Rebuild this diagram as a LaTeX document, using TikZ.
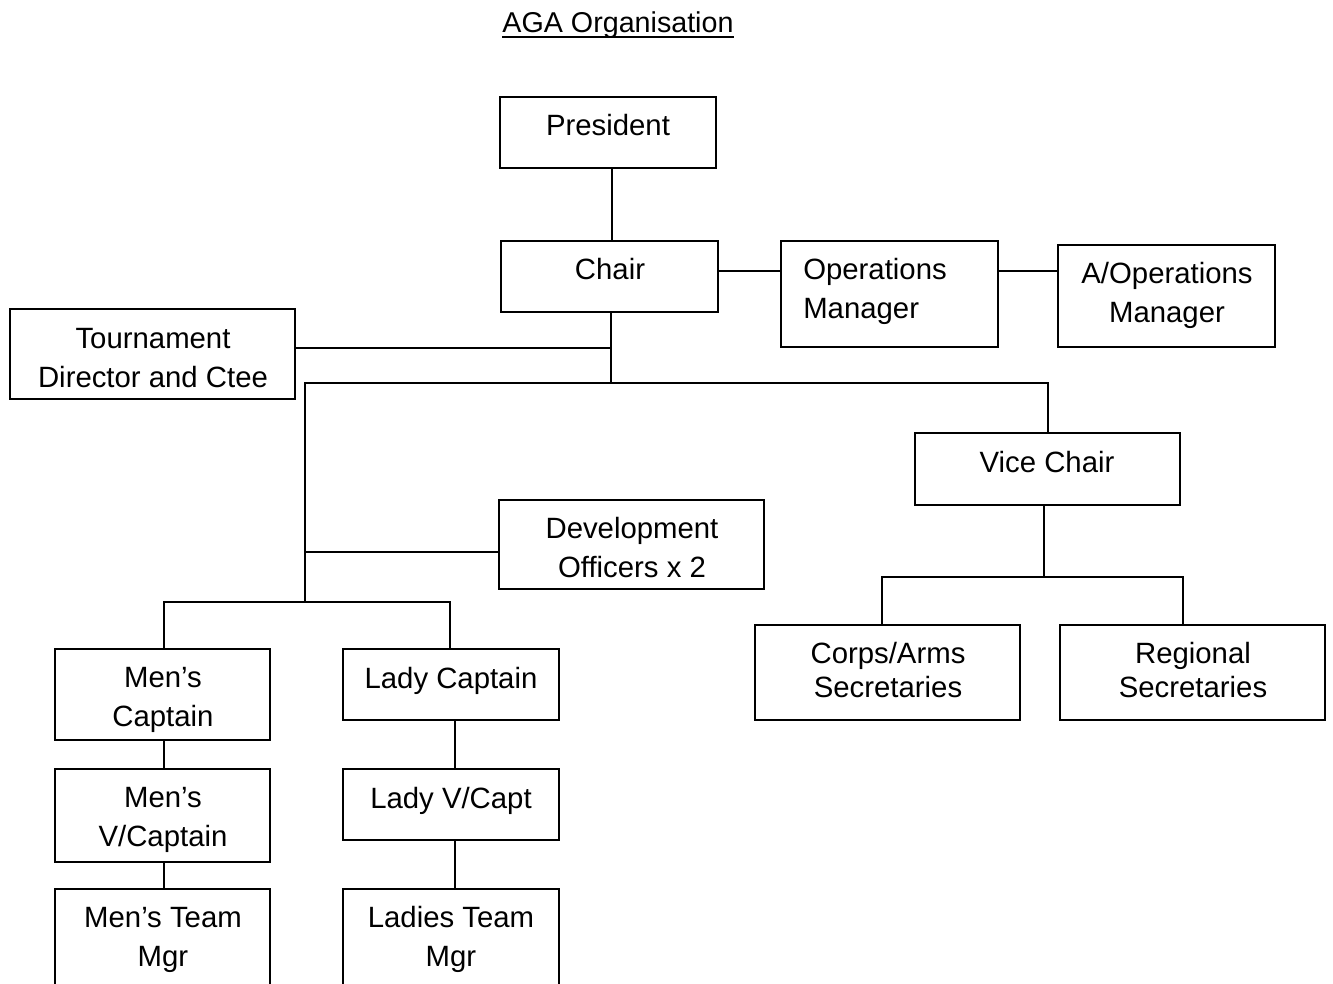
\documentclass[tikz,border=0pt]{standalone}
\usepackage{fontspec}
\setmainfont{Liberation Sans}
\usetikzlibrary{fit,calc}
\tikzset{
  box/.style={draw=black, line width=1.5pt, inner sep=0pt, rectangle},
  txt/.style={inner sep=0pt, align=center, anchor=north, font=\fontsize{22}{29.25}\selectfont},
  txtl/.style={txt, align=left, anchor=north west},
  txts/.style={txt, font=\fontsize{22}{25.5}\selectfont},
  conn/.style={line width=1.5pt, line cap=rect}
}
\newcommand{\st}{\rule{0pt}{20pt}}
\begin{document}
\begin{tikzpicture}[x=0.75pt,y=-0.75pt]
\useasboundingbox (0,0) rectangle (1333,983);
\clip (0,0) rectangle (1333,983);
\fill[white] (0,0) rectangle (1333,983);
% title
\node[inner sep=0pt, anchor=base, font=\fontsize{21.5}{25}\selectfont] (title) at (618,32) {AGA Organisation};
\draw[line width=1.2pt] ([yshift=-3.7pt]title.base west) -- ([yshift=-3.7pt]title.base east);
% boxes
\node[box, fit={(500,97) (716,168)}] (pres) {};
\node[box, fit={(501,241) (718,312)}] (chair) {};
\node[box, fit={(781,241) (998,347)}] (ops) {};
\node[box, fit={(1058,245) (1275,347)}] (aops) {};
\node[box, fit={(10,309) (295,399)}] (tour) {};
\node[box, fit={(915,433) (1180,505)}] (vice) {};
\node[box, fit={(499,500) (764,589)}] (dev) {};
\node[box, fit={(755,625) (1020,720)}] (corps) {};
\node[box, fit={(1060,625) (1325,720)}] (reg) {};
\node[box, fit={(55,649) (270,740)}] (men1) {};
\node[box, fit={(343,649) (559,720)}] (lady1) {};
\node[box, fit={(55,769) (270,862)}] (men2) {};
\node[box, fit={(343,769) (559,840)}] (lady2) {};
\node[box, fit={(55,889) (270,1010)}] (men3) {};
\node[box, fit={(343,889) (559,1010)}] (lady3) {};
% texts
\node[txt] (presT) at (608,108.8) {\st President};
\node[txt] (chairT) at (610,252.8) {\st Chair};
\node[txtl] (opsT) at (803,252.8) {\st Operations\\Manager};
\node[txt] (aopsT) at (1167,256.8) {\st A/Operations\\Manager};
\node[txt] (tourT) at (153,321.8) {\st Tournament\\Director and Ctee};
\node[txt] (viceT) at (1047,445.8) {\st Vice Chair};
\node[txt] (devT) at (632,511.8) {\st Development\\Officers x 2};
\node[txts] (corpsT) at (888,636.8) {\st Corps/Arms\\Secretaries};
\node[txts] (regT) at (1193,636.8) {\st Regional\\Secretaries};
\node[txt] (men1T) at (163,660.8) {\st Men’s\\Captain};
\node[txt] (lady1T) at (451,661.8) {\st Lady Captain};
\node[txt] (men2T) at (163,780.8) {\st Men’s\\V/Captain};
\node[txt] (lady2T) at (451,781.8) {\st Lady V/Capt};
\node[txt] (men3T) at (163,900.8) {\st Men’s Team\\Mgr};
\node[txt] (lady3T) at (451,900.8) {\st Ladies Team\\Mgr};
% junction coordinates
\coordinate (jP) at (612,0);
\coordinate (jT) at (611,348);
\coordinate (jM) at (611,383);
\coordinate (jL) at (305,383);
\coordinate (jR) at (1048,383);
\coordinate (jD) at (305,552);
\coordinate (jB) at (305,602);
\coordinate (jBL) at (164,602);
\coordinate (jBR) at (450,602);
\coordinate (jLx) at (455,0);
\coordinate (jV) at (1044,577);
\coordinate (jVL) at (882,577);
\coordinate (jVR) at (1183,577);
\coordinate (jC) at (612,271);
% connectors
\draw[conn] (pres.south -| jP) -- (chair.north -| jP);
\draw[conn] (chair.east |- jC) -- (ops.west |- jC);
\draw[conn] (ops.east |- jC) -- (aops.west |- jC);
\draw[conn] (chair.south -| jM) -- (jM);
\draw[conn] (tour.east |- jT) -- (jT);
\draw[conn] (jL) -- (jR) -- (jR |- vice.north);
\draw[conn] (jL) -- (jB);
\draw[conn] (jD) -- (jD -| dev.west);
\draw[conn] (jBL |- men1.north) -- (jBL) -- (jBR) -- (jBR |- lady1.north);
\draw[conn] (men1.south -| jBL) -- (men2.north -| jBL);
\draw[conn] (men2.south -| jBL) -- (men3.north -| jBL);
\draw[conn] (lady1.south -| jLx) -- (lady2.north -| jLx);
\draw[conn] (lady2.south -| jLx) -- (lady3.north -| jLx);
\draw[conn] (vice.south -| jV) -- (jV);
\draw[conn] (jVL |- corps.north) -- (jVL) -- (jVR) -- (jVR |- reg.north);
\end{tikzpicture}
\end{document}
